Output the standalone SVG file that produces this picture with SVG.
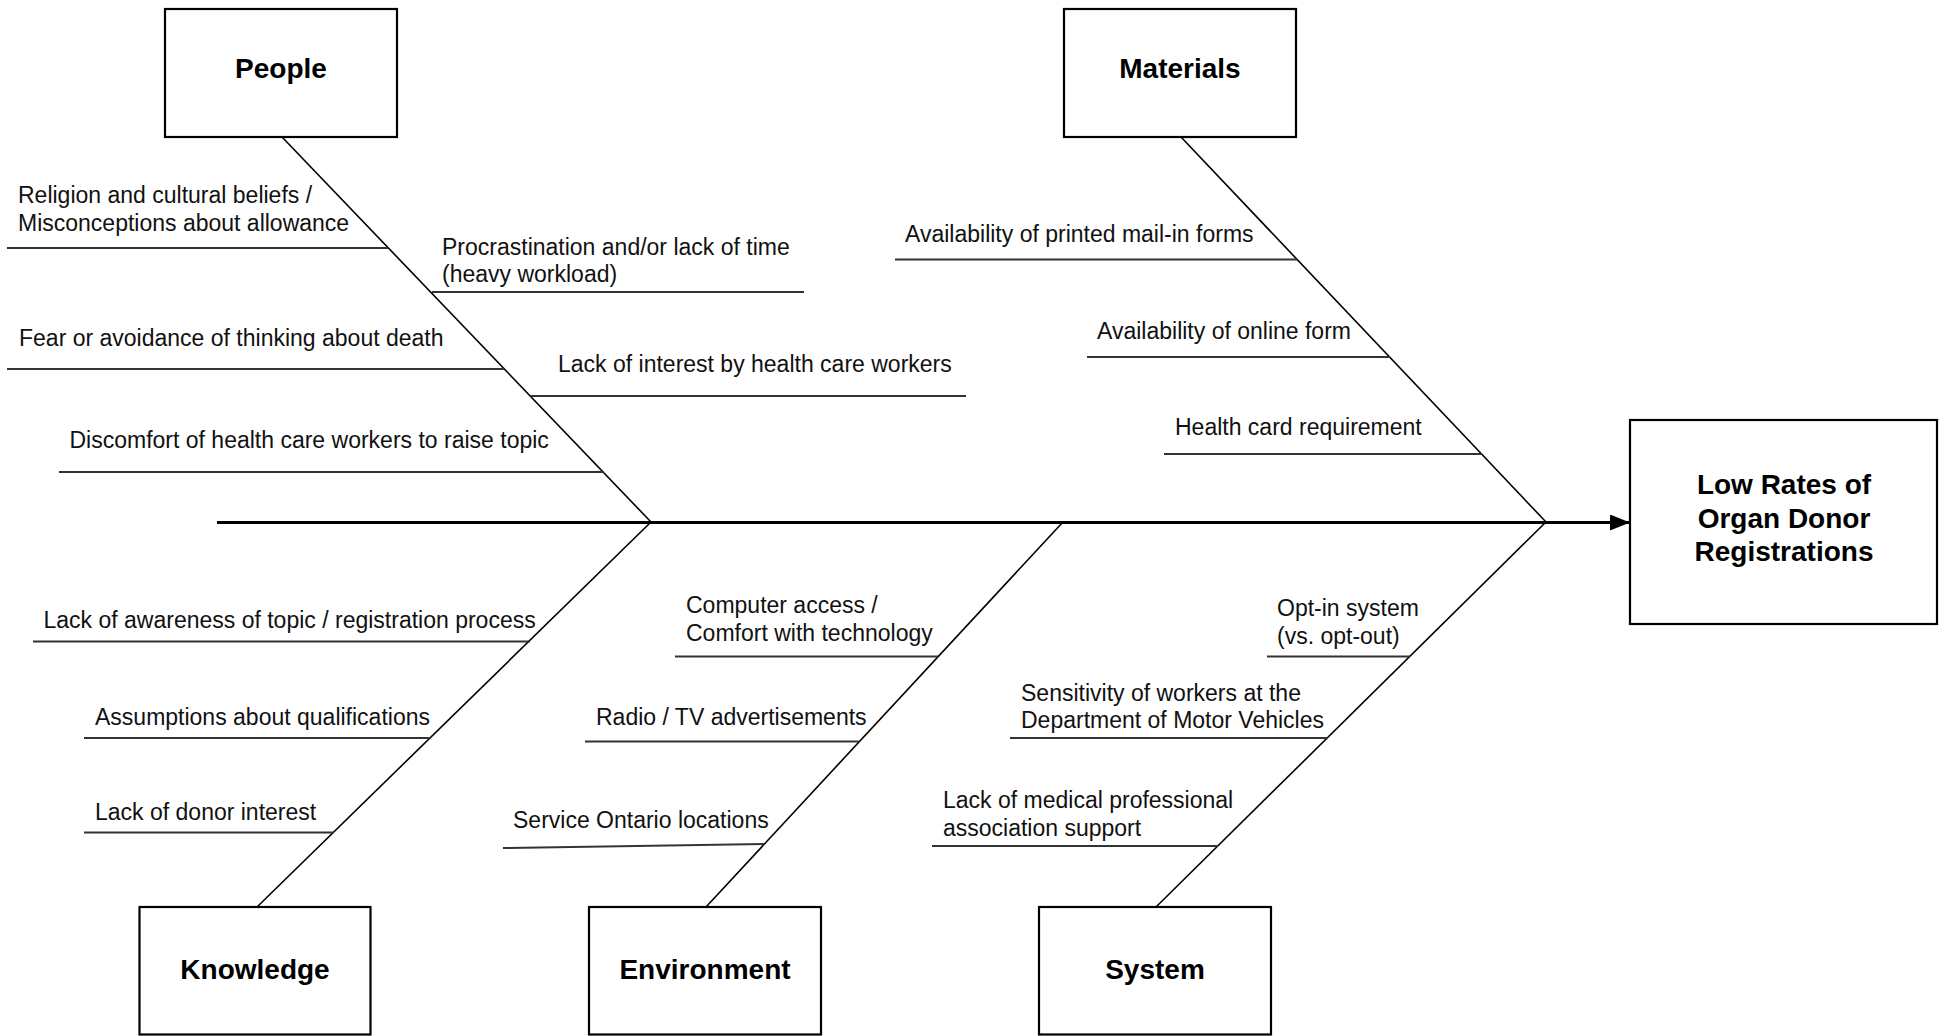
<svg xmlns="http://www.w3.org/2000/svg" width="1946" height="1036" viewBox="0 0 1946 1036">
<style>
.box{fill:#fff;stroke:#000;stroke-width:2.2}
.title{font-family:"Liberation Sans",Arial,sans-serif;font-weight:bold;font-size:28px;fill:#000;text-anchor:middle}
.lbl{font-family:"Liberation Sans",Arial,sans-serif;font-size:23px;fill:#111}
.bone{stroke:#000;stroke-width:1.6;fill:none}
.rib{stroke:#333;stroke-width:2;fill:none}
.spine{stroke:#000;stroke-width:3;fill:none}
</style>
<defs>
<marker id="arrow" markerUnits="userSpaceOnUse" markerWidth="22" markerHeight="18" refX="20" refY="8" orient="auto">
<path d="M0,0 L20,8 L0,16 Z" fill="#000"/>
</marker>
</defs>
<rect width="1946" height="1036" fill="#fff"/>
<g id="connectors">
<line class="spine" x1="217" y1="522.5" x2="1630" y2="522.5" marker-end="url(#arrow)"/>
<line class="bone" x1="282" y1="137" x2="651" y2="522"/>
<line class="bone" x1="1181" y1="137" x2="1546" y2="522"/>
<line class="bone" x1="257" y1="907" x2="651" y2="522"/>
<line class="bone" x1="706" y1="907" x2="1063" y2="522"/>
<line class="bone" x1="1156" y1="907" x2="1546" y2="522"/>
<line class="rib" x1="7" y1="248" x2="388" y2="248"/>
<line class="rib" x1="432" y1="292" x2="804" y2="292"/>
<line class="rib" x1="7" y1="369" x2="504" y2="369"/>
<line class="rib" x1="531" y1="396" x2="966" y2="396"/>
<line class="rib" x1="59" y1="472" x2="604" y2="472"/>
<line class="rib" x1="895" y1="259.5" x2="1297" y2="259.5"/>
<line class="rib" x1="1087" y1="357" x2="1390" y2="357"/>
<line class="rib" x1="1164" y1="454" x2="1482" y2="454"/>
<line class="rib" x1="33" y1="641.5" x2="530" y2="641.5"/>
<line class="rib" x1="84" y1="738" x2="431" y2="738"/>
<line class="rib" x1="84" y1="832.5" x2="334" y2="832.5"/>
<line class="rib" x1="675" y1="656.5" x2="938" y2="656.5"/>
<line class="rib" x1="585" y1="741.5" x2="860" y2="741.5"/>
<line class="rib" x1="503" y1="848" x2="764" y2="844"/>
<line class="rib" x1="1267" y1="656.5" x2="1410" y2="656.5"/>
<line class="rib" x1="1010" y1="738" x2="1328" y2="738"/>
<line class="rib" x1="932" y1="846" x2="1218" y2="846"/>
</g>
<g id="people">
<rect class="box" x="165" y="9" width="232" height="128"/>
<text class="title" x="281" y="78">People</text>
</g>
<g id="materials">
<rect class="box" x="1064" y="9" width="232" height="128"/>
<text class="title" x="1180" y="78">Materials</text>
</g>
<g id="knowledge">
<rect class="box" x="139.5" y="907" width="231" height="127.5"/>
<text class="title" x="255" y="979">Knowledge</text>
</g>
<g id="environment">
<rect class="box" x="589" y="907" width="232" height="127.5"/>
<text class="title" x="705" y="979">Environment</text>
</g>
<g id="system">
<rect class="box" x="1039" y="907" width="232" height="127.5"/>
<text class="title" x="1155" y="979">System</text>
</g>
<g id="effect">
<rect class="box" x="1630" y="420" width="307" height="204"/>
<text class="title" x="1784" y="494">Low Rates of</text>
<text class="title" x="1784" y="527.5">Organ Donor</text>
<text class="title" x="1784" y="561">Registrations</text>
</g>
<g id="causes">
<text class="lbl" x="18" y="203">Religion and cultural beliefs /</text>
<text class="lbl" x="18" y="231">Misconceptions about allowance</text>
<text class="lbl" x="442" y="255">Procrastination and/or lack of time</text>
<text class="lbl" x="442" y="282">(heavy workload)</text>
<text class="lbl" x="19" y="346">Fear or avoidance of thinking about death</text>
<text class="lbl" x="558" y="371.5">Lack of interest by health care workers</text>
<text class="lbl" x="69.5" y="448">Discomfort of health care workers to raise topic</text>
<text class="lbl" x="905" y="242">Availability of printed mail-in forms</text>
<text class="lbl" x="1097" y="339">Availability of online form</text>
<text class="lbl" x="1175" y="435">Health card requirement</text>
<text class="lbl" x="43.5" y="628">Lack of awareness of topic / registration process</text>
<text class="lbl" x="95" y="724.5">Assumptions about qualifications</text>
<text class="lbl" x="95" y="819.5">Lack of donor interest</text>
<text class="lbl" x="686" y="613">Computer access /</text>
<text class="lbl" x="686" y="641">Comfort with technology</text>
<text class="lbl" x="596" y="724.5">Radio / TV advertisements</text>
<text class="lbl" x="513" y="827.5">Service Ontario locations</text>
<text class="lbl" x="1277" y="616">Opt-in system</text>
<text class="lbl" x="1277" y="644">(vs. opt-out)</text>
<text class="lbl" x="1021" y="701">Sensitivity of workers at the</text>
<text class="lbl" x="1021" y="728">Department of Motor Vehicles</text>
<text class="lbl" x="943" y="807.5">Lack of medical professional</text>
<text class="lbl" x="943" y="835.5">association support</text>
</g>
</svg>
